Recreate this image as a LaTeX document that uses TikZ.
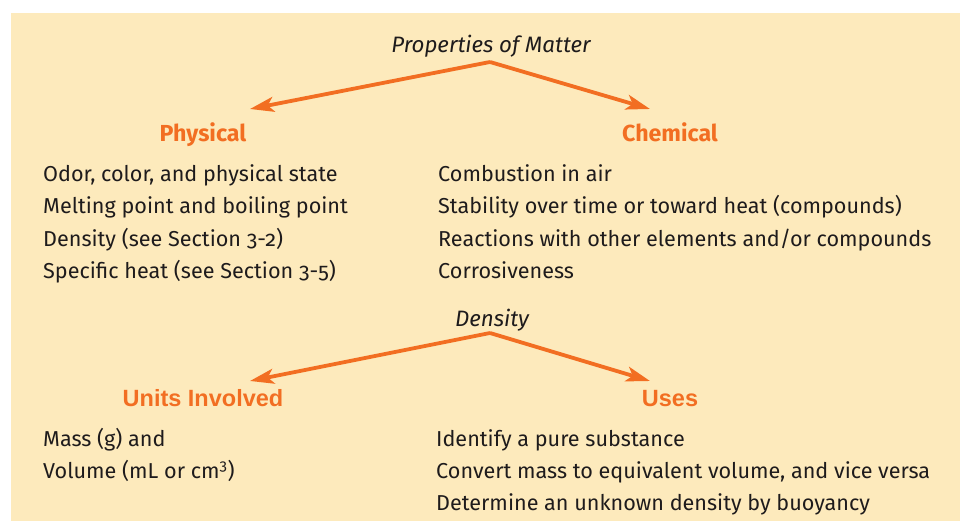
\documentclass[tikz,border=0pt]{standalone}
\usepackage{fontspec}
\usetikzlibrary{arrows.meta,positioning}
\newfontfamily\bodyfont[Numbers=OldStyle]{Fira Sans}
\newfontfamily\arialfont{Liberation Sans}
\definecolor{paper}{HTML}{FDEABC}
\definecolor{tangerine}{HTML}{F26E22}
\definecolor{ink}{HTML}{1E1B1C}

\begin{document}
\begin{tikzpicture}[
            x=1pt, y=-1pt,
            node distance=12pt,
            title/.style={font=\bodyfont\itshape\fontsize{22.3}{26}\selectfont, text=ink, inner sep=0pt, anchor=base},
            head/.style={font=\bodyfont\bfseries\fontsize{23.2}{28}\selectfont, text=tangerine, inner sep=0pt, anchor=base},
            headb/.style={font=\arialfont\bfseries\fontsize{23.5}{28}\selectfont, text=tangerine, inner sep=0pt, anchor=base},
            item/.style={font=\bodyfont\fontsize{21.6}{26}\selectfont, text=ink, inner sep=0pt, text height=15pt, text depth=5pt, anchor=base west},
            branch/.style={-{Stealth[length=24pt, width=15pt, inset=6pt]}, line width=3.8pt, tangerine}
        ]
            \useasboundingbox (0,0) rectangle (960,521);
            \fill[paper] (11,13) rectangle (960,521);

            % properties of matter
            \node[title] (props) at (491,53) {Properties of Matter};
            \coordinate (propsTop) at (490,62);
            \node[head] (phys) at (203,142) {Physical};
            \node[head] (chem) at (670,142) {Chemical};
            \coordinate (physTip) at (250,109);
            \coordinate (chemTip) at (650,109);
            \draw[branch] (propsTop) -- (physTip);
            \draw[branch] (propsTop) -- (chemTip);

            \node[item] (odor) at (43,181.5) {Odor, color, and physical state};
            \node[item, below=of odor.south west, anchor=north west] (melt) {Melting point and boiling point};
            \node[item, below=of melt.south west, anchor=north west] (dense) {Density (see Section 3-2)};
            \node[item, below=of dense.south west, anchor=north west] (heat) {Specific heat (see Section 3-5)};

            \node[item] (combust) at (438,181.5) {Combustion in air};
            \node[item, below=of combust.south west, anchor=north west] (stable) {Stability over time or toward heat (compounds)};
            \node[item, below=of stable.south west, anchor=north west] (react) {Reactions with other elements and/or compounds};
            \node[item, below=of react.south west, anchor=north west] (corrode) {Corrosiveness};

            % density
            \node[title] (dens) at (492,326) {Density};
            \coordinate (densTop) at (490,333);
            \node[headb] (units) at (203,406) {Units Involved};
            \node[headb] (uses) at (670,406) {Uses};
            \coordinate (unitsTip) at (250,381);
            \coordinate (usesTip) at (650,381);
            \draw[branch] (densTop) -- (unitsTip);
            \draw[branch] (densTop) -- (usesTip);

            \node[item] (mass) at (43,446) {Mass (g) and};
            \node[item, below=of mass.south west, anchor=north west] (vol) {Volume (mL or cm\textsuperscript{3})};

            \node[item] (ident) at (436,446) {Identify a pure substance};
            \node[item, below=of ident.south west, anchor=north west] (conv) {Convert mass to equivalent volume, and vice versa};
            \node[item, below=of conv.south west, anchor=north west] (buoy) {Determine an unknown density by buoyancy};
        \end{tikzpicture}
\end{document}
